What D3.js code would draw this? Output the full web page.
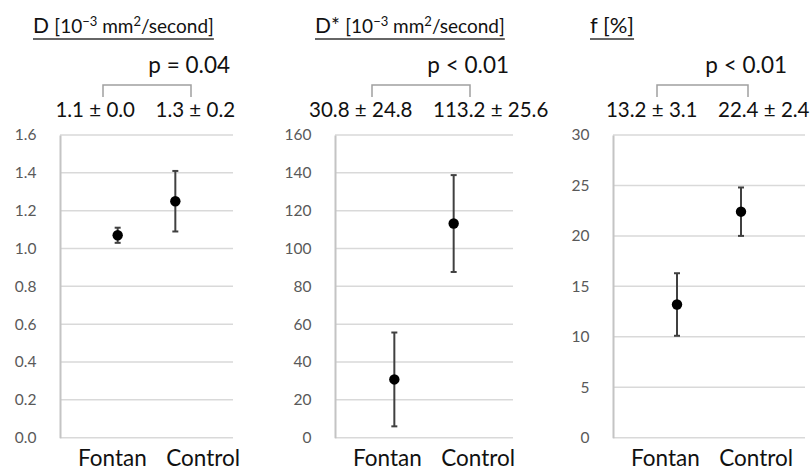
<!DOCTYPE html>
<html>
<head>
<meta charset="utf-8">
<script src="https://cdn.jsdelivr.net/npm/d3@7"></script>
<style>
  body { margin: 0; background: #fff; }
  svg { display: block; font-family: Lato, "Open Sans", sans-serif; }
</style>
</head>
<body>
<div id="chart"></div>
<script>
const categories = ["Fontan", "Control"];

// D [10^-3 mm2/second]
const dMean = [1.07, 1.25];
const dSd = [0.04, 0.16];
const dTicks = [0, 0.2, 0.4, 0.6, 0.8, 1.0, 1.2, 1.4, 1.6];
const dSummary = ["1.1 ± 0.0", "1.3 ± 0.2"];

// D* [10^-3 mm2/second]
const dStarMean = [30.8, 113.2];
const dStarSd = [24.8, 25.6];
const dStarTicks = [0, 20, 40, 60, 80, 100, 120, 140, 160];
const dStarSummary = ["30.8 ± 24.8", "113.2 ± 25.6"];

// f [%]
const fMean = [13.2, 22.4];
const fSd = [3.1, 2.4];
const fTicks = [0, 5, 10, 15, 20, 25, 30];
const fSummary = ["13.2 ± 3.1", "22.4 ± 2.4"];

const pValues = ["p = 0.04", "p < 0.01", "p < 0.01"];

const width = 812;
const height = 473;
const plotTop = 135, plotBottom = 437.7;

const panels = [
    { sym: "D", unit: "sec", mean: dMean, sd: dSd, ticks: dTicks, fmt: d3.format(".1f"),
      summary: dSummary, p: pValues[0], left: 60, right: 233, titleX: 33, bracket: [103, 191] },
    { sym: "D*", unit: "sec", mean: dStarMean, sd: dStarSd, ticks: dStarTicks, fmt: d3.format("d"),
      summary: dStarSummary, p: pValues[1], left: 335, right: 513, titleX: 315, bracket: [372, 470] },
    { sym: "f", unit: "pct", mean: fMean, sd: fSd, ticks: fTicks, fmt: d3.format("d"),
      summary: fSummary, p: pValues[2], left: 613, right: 805, titleX: 590, bracket: [657, 748] }
];

const svg = d3.select("#chart")
    .append("svg")
    .attr("width", width)
    .attr("height", height);

panels.forEach(function(p) {
    const g = svg.append("g");

    const y = d3.scaleLinear()
        .domain([0, d3.max(p.ticks)])
        .range([plotBottom, plotTop]);

    const x = d3.scalePoint()
        .domain(categories)
        .range([p.left, p.right])
        .padding(1);

    // gridlines
    g.selectAll(".grid")
        .data(p.ticks)
        .enter()
        .append("line")
        .attr("x1", p.left)
        .attr("x2", p.right)
        .attr("y1", d => y(d))
        .attr("y2", d => y(d))
        .attr("stroke", "#d9d9d9")
        .attr("stroke-width", 1.5);

    // y axis
    const axis = g.append("g")
        .attr("transform", "translate(" + p.left + ",0)")
        .call(d3.axisLeft(y).tickValues(p.ticks).tickFormat(p.fmt).tickSize(0).tickPadding(23.5));
    axis.select(".domain").attr("stroke", "#c4c4c4").attr("stroke-width", 2);
    axis.selectAll("text")
        .attr("fill", "#595959")
        .style("font-family", "Lato, sans-serif")
        .style("font-size", "15.5px");

    // error bars
    const idx = d3.range(categories.length);
    g.selectAll(".err")
        .data(idx)
        .enter()
        .append("line")
        .attr("x1", i => x(categories[i]))
        .attr("x2", i => x(categories[i]))
        .attr("y1", i => y(p.mean[i] - p.sd[i]))
        .attr("y2", i => y(p.mean[i] + p.sd[i]))
        .attr("stroke", "#404040")
        .attr("stroke-width", 2);

    [-1, 1].forEach(function(s) {
        g.selectAll(".cap" + s)
            .data(idx)
            .enter()
            .append("line")
            .attr("x1", i => x(categories[i]) - 3)
            .attr("x2", i => x(categories[i]) + 3)
            .attr("y1", i => y(p.mean[i] + s * p.sd[i]))
            .attr("y2", i => y(p.mean[i] + s * p.sd[i]))
            .attr("stroke", "#404040")
            .attr("stroke-width", 2);
    });

    g.selectAll(".dot")
        .data(idx)
        .enter()
        .append("circle")
        .attr("cx", i => x(categories[i]))
        .attr("cy", i => y(p.mean[i]))
        .attr("r", 5.2)
        .attr("fill", "#000");

    // category labels
    g.append("text")
        .attr("x", p.left + 18)
        .attr("y", 466)
        .style("font-size", "22.5px")
        .attr("fill", "#111")
        .text(categories[0]);
    g.append("text")
        .attr("x", p.left + 180)
        .attr("y", 466)
        .attr("text-anchor", "end")
        .style("font-size", "22.5px")
        .attr("fill", "#111")
        .text(categories[1]);

    // mean +- sd labels
    const mid = (p.left + p.right) / 2;
    g.append("text")
        .attr("x", mid - 11.5)
        .attr("y", 117)
        .attr("text-anchor", "end")
        .style("font-size", "20.5px")
        .attr("fill", "#111")
        .text(p.summary[0]);
    g.append("text")
        .attr("x", mid + 9)
        .attr("y", 117)
        .style("font-size", "20.5px")
        .attr("fill", "#111")
        .text(p.summary[1]);

    // bracket + p value
    g.append("path")
        .attr("d", "M" + p.bracket[0] + ",97V85H" + p.bracket[1] + "V97")
        .attr("fill", "none")
        .attr("stroke", "#a0a0a0")
        .attr("stroke-width", 1.5);
    g.append("text")
        .attr("x", p.bracket[1] + 39)
        .attr("y", 73)
        .attr("text-anchor", "end")
        .style("font-size", "22.5px")
        .attr("fill", "#111")
        .text(p.p);

    // title
    const t = g.append("text")
        .attr("x", p.titleX)
        .attr("y", 33)
        .attr("fill", "#111");
    if (p.unit === "sec") {
        t.append("tspan").style("font-size", "21px").text(p.sym + " ");
        t.append("tspan").style("font-size", "19px").text("[10");
        t.append("tspan").style("font-size", "13px").attr("dy", -7).text("−3");
        t.append("tspan").style("font-size", "19px").attr("dy", 7).text(" mm");
        t.append("tspan").style("font-size", "13px").attr("dy", -7).text("2");
        t.append("tspan").style("font-size", "19px").attr("dy", 7).text("/second]");
    } else {
        t.append("tspan").style("font-size", "22px").text(p.sym + " [%]");
    }
    const w = t.node().getComputedTextLength();
    g.append("line")
        .attr("x1", p.titleX)
        .attr("x2", p.titleX + w)
        .attr("y1", 39)
        .attr("y2", 39)
        .attr("stroke", "#333")
        .attr("stroke-width", 1.3);
});
</script>
</body>
</html>
